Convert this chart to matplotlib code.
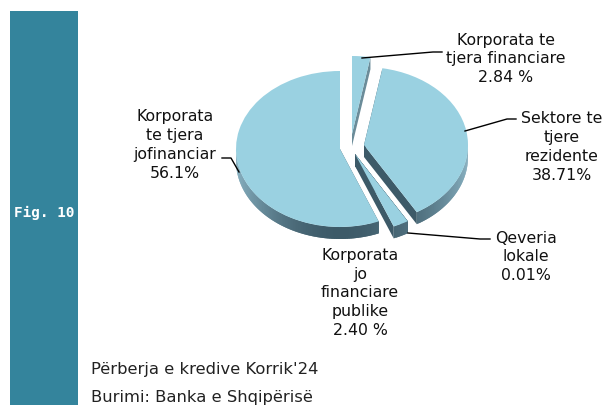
import numpy as np
import matplotlib
matplotlib.use("Agg")
import matplotlib.pyplot as plt

labels = ["Korporata te\ntjera financiare\n2.84 %",
          "Sektore te\ntjere\nrezidente\n38.71%",
          "Qeveria\nlokale\n0.01%",
          "Korporata\njo\nfinanciare\npublike\n2.40 %",
          "Korporata\nte tjera\njofinanciar\n56.1%"]
values = [2.84, 38.71, 0.01, 2.40, 56.1]

# pixel layout of the picture
W, H = 605, 406
CX, CY, RX, RY = 340, 150, 104, 78
DEPTH = 12
shifts = [(12, -15), (24, -4), (15, 5), (15, 5), (0, 0)]
label_pos = [(506, 59), (562, 147), (526, 257), (360, 293), (175, 145)]
leaders = [[(362, 59), (433, 53), (442, 53)],
           [(465, 132), (507, 120), (516, 120)],
           [(408, 234), (480, 240), (490, 240)],
           [(239, 173), (231, 159), (222, 159)]]

TOP = "#9AD1E1"
BAR = "#34849C"
DARK = np.array(matplotlib.colors.to_rgb("#3D5A68"))
LIGHT = np.array(matplotlib.colors.to_rgb("#86AFBF"))

LABEL_FONT = {"family": "DejaVu Sans", "fontsize": 11.3, "color": "#111111",
              "ha": "center", "va": "center", "linespacing": 1.33}

fig = plt.figure(figsize=(W / 100, H / 100), dpi=100)
ax = fig.add_axes([0, 0, 1, 1])
wedges, _ = ax.pie(values, startangle=90, counterclock=False, colors=[TOP] * len(values))
ax.set_aspect("auto")
ax.set_xlim((0 - CX) / RX, (W - CX) / RX)
ax.set_ylim((CY - H) / RY, CY / RY)
ax.patch.set_visible(False)


def side_color(ang):
    # light on the left and right flanks, dark at the front
    t = abs(np.cos(np.radians(ang))) ** 2
    return DARK + (LIGHT - DARK) * t


for n, (w, (sx, sy)) in enumerate(zip(wedges, shifts)):
    cx, cy = sx / RX, -sy / RY
    w.set_center((cx, cy))
    w.set_zorder(5)
    angs = np.linspace(w.theta1, w.theta2, max(int(w.theta2 - w.theta1), 2))
    px = cx + np.cos(np.radians(angs))
    py = cy + np.sin(np.radians(angs))
    d = DEPTH / RY
    # the sliver at the top has a lighter, thin cut face
    cut = LIGHT * 0.8 if n == 0 else DARK
    ax.fill([cx, px[0], px[0], cx], [cy, py[0], py[0] - d, cy - d], color=cut, lw=0, zorder=2)
    ax.fill([cx, px[-1], px[-1], cx], [cy, py[-1], py[-1] - d, cy - d], color=cut, lw=0, zorder=2)
    for i in range(len(angs) - 1):
        if np.sin(np.radians(angs[i])) < 0.05:
            j = min(i + 2, len(angs) - 1)
            ax.fill([px[i], px[j], px[j], px[i]],
                    [py[i], py[j], py[j] - d, py[i] - d],
                    color=side_color(angs[i]), lw=0, zorder=3 + i * 0.001)

# overlay in pixel coordinates for the bar and the text
ov = fig.add_axes([0, 0, 1, 1])
ov.set_xlim(0, W)
ov.set_ylim(H, 0)
ov.axis("off")
ov.fill_between([10, 78], 12, H, color=BAR, lw=0)
ov.text(44, 213, "Fig. 10", color="white", fontsize=10.4, fontweight="bold",
        family="DejaVu Sans Mono", ha="center", va="center")

for txt, (x, y) in zip(labels, label_pos):
    ov.text(x, y, txt, **LABEL_FONT)
for pts in leaders:
    xs, ys = zip(*pts)
    ov.plot(xs, ys, color="black", lw=1)

ov.text(91, 370, "Përberja e kredive Korrik'24", family="DejaVu Sans", fontsize=11.8,
        color="#222222", va="center")
ov.text(91, 398, "Burimi: Banka e Shqipërisë", family="DejaVu Sans", fontsize=11.8,
        color="#222222", va="center")

fig.savefig("out.png", dpi=100)
